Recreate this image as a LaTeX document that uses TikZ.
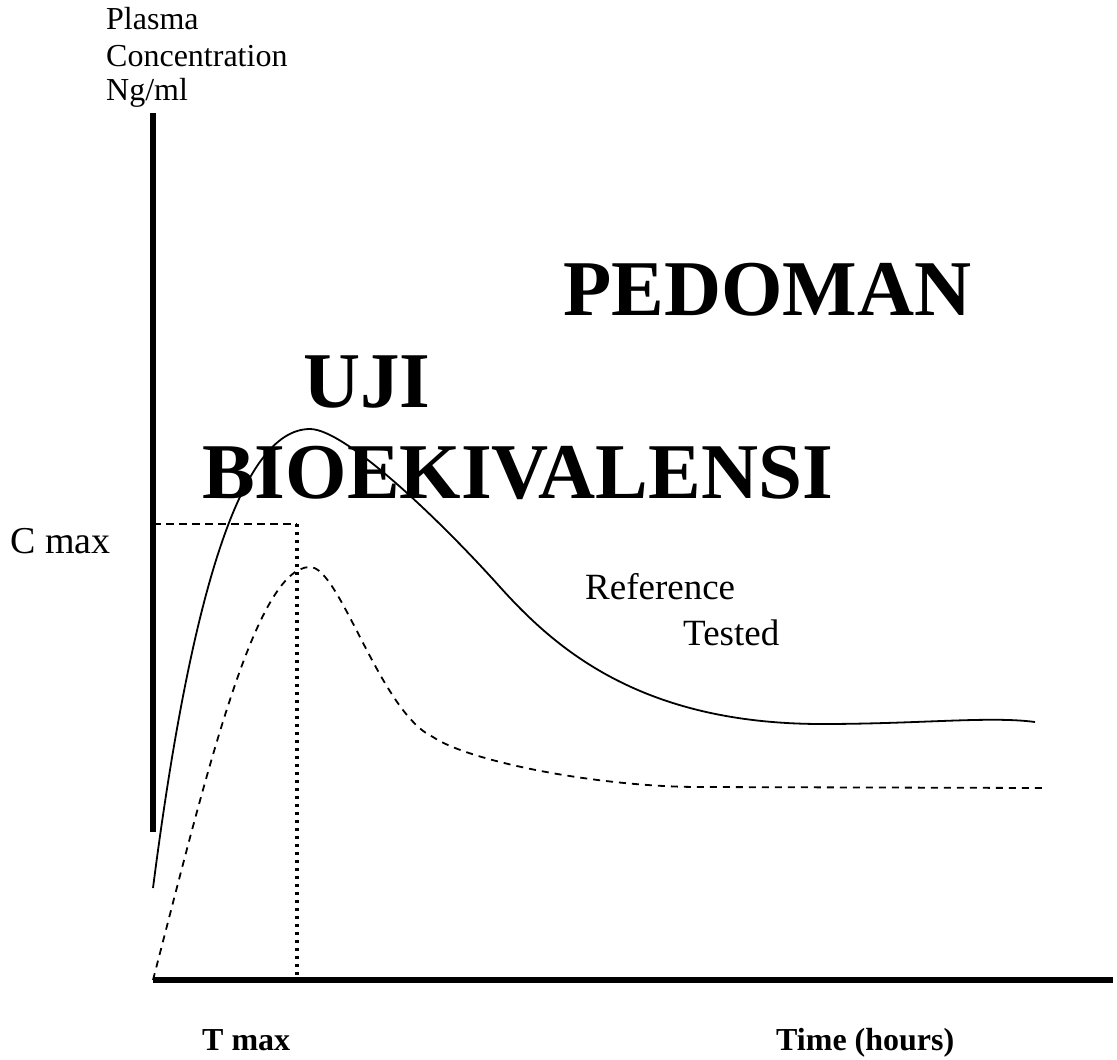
\documentclass[tikz,border=0pt]{standalone}
\usepackage{fontspec}
\setmainfont{Liberation Serif}
\begin{document}
\begin{tikzpicture}[x=1pt, y=-1pt,
    axisline/.style={line width=6pt},
    refcurve/.style={line width=1.8pt, line join=round},
    testcurve/.style={line width=1.8pt, dash pattern=on 7pt off 6pt},
    cmaxline/.style={line width=2pt, dash pattern=on 8pt off 5pt},
    tmaxline/.style={line width=3.3pt, dash pattern=on 3.3pt off 4.7pt},
    lbl/.style={inner sep=0pt, anchor=base west}]
    \useasboundingbox (0,0) rectangle (1117,1060);
    % axes
    \draw[axisline] (153,113) to (153,832);
    \draw[axisline] (153,980) to (1113,980);
    % C max and T max guides
    \draw[cmaxline] (153,524) to (297,524);
    \draw[tmaxline] (297,524) to (297,977);
    % reference profile
    \draw[refcurve] (153,888) .. controls (190,600) and (240,429) .. (310,429)
        .. controls (345,429) and (440,520) .. (500,587)
        .. controls (555,648) and (640,724) .. (822,724)
        .. controls (920,724) and (990,716) .. (1035,722);
    % tested profile
    \draw[testcurve] (153,980) .. controls (205,780) and (255,567) .. (310,567)
        .. controls (340,567) and (380,712) .. (433,737)
        .. controls (470,762) and (600,787) .. (700,787)
        to (1042,788);
    % labels
    \node[lbl] (ylabel) at (106,30) {\fontsize{32}{36}\selectfont Plasma};
    \node[lbl] (yconc) at (106,66) {\fontsize{32}{36}\selectfont Concentration};
    \node[lbl] (yunit) at (106,100) {\fontsize{32}{36}\selectfont Ng/ml};
    \node[lbl] (cmax) at (10,553) {\fontsize{38}{44}\selectfont C max};
    \node[lbl] (tmax) at (202,1050) {\fontsize{32}{36}\selectfont\bfseries T max};
    \node[lbl] (time) at (776,1050) {\fontsize{32}{36}\selectfont\bfseries Time (hours)};
    \node[lbl] (ref) at (585,599) {\fontsize{37}{42}\selectfont Reference};
    \node[lbl] (test) at (683,645) {\fontsize{37}{42}\selectfont Tested};
    \node[lbl] (title1) at (563,315) {\fontsize{79}{90}\selectfont\bfseries PEDOMAN};
    \node[lbl] (title2) at (303,407) {\fontsize{79}{90}\selectfont\bfseries UJI};
    \node[lbl] (title3) at (202,498) {\fontsize{79}{90}\selectfont\bfseries BIOEKIVALENSI};
\end{tikzpicture}
\end{document}
